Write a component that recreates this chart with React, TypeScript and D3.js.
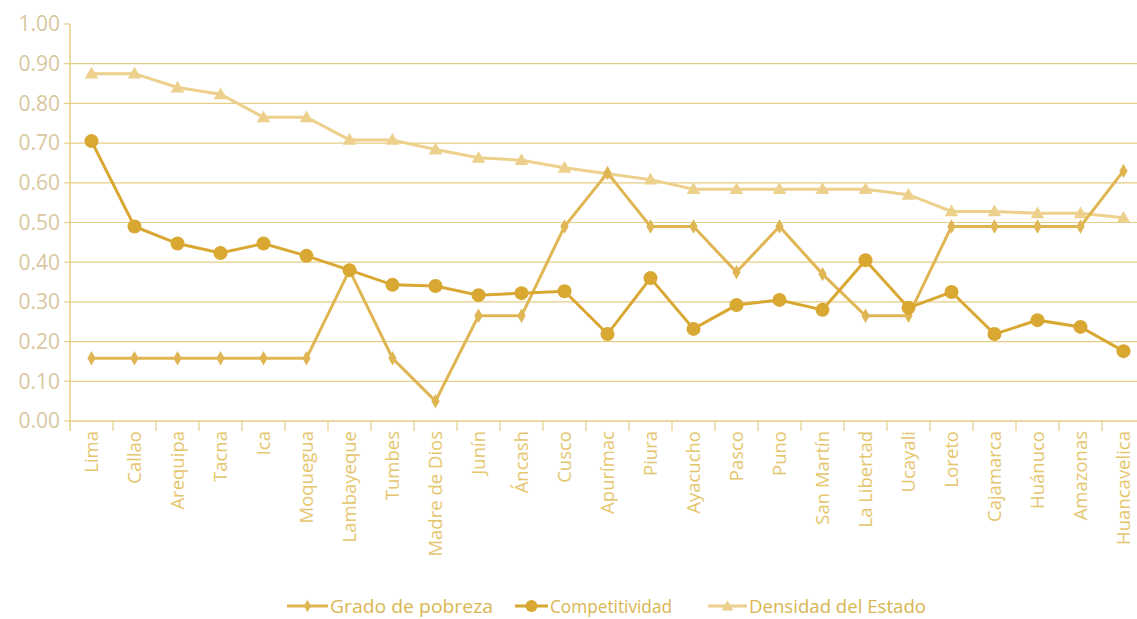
import React from "react";
import * as d3 from "d3";

const categories = ["Lima","Callao","Arequipa","Tacna","Ica","Moquegua","Lambayeque","Tumbes","Madre de Dios","Junín","Áncash","Cusco","Apurímac","Piura","Ayacucho","Pasco","Puno","San Martín","La Libertad","Ucayali","Loreto","Cajamarca","Huánuco","Amazonas","Huancavelica"];
const pobreza = [0.158,0.158,0.158,0.158,0.158,0.158,0.38,0.158,0.05,0.265,0.265,0.49,0.625,0.49,0.49,0.375,0.49,0.37,0.265,0.265,0.49,0.49,0.49,0.49,0.63];
const competitividad = [0.705,0.49,0.447,0.423,0.447,0.416,0.38,0.343,0.34,0.317,0.322,0.327,0.219,0.36,0.232,0.292,0.305,0.28,0.405,0.285,0.325,0.219,0.254,0.237,0.176];
const densidad = [0.875,0.875,0.84,0.823,0.765,0.765,0.708,0.708,0.684,0.663,0.657,0.638,0.623,0.608,0.584,0.584,0.584,0.584,0.584,0.57,0.528,0.528,0.523,0.523,0.512];
const yTicks = [0,0.1,0.2,0.3,0.4,0.5,0.6,0.7,0.8,0.9,1.0];
const seriesNames = ["Grado de pobreza","Competitividad","Densidad del Estado"];

const W = 1137, H = 619;
const left = 70, right = 1145, top = 24, bottom = 421;
const colPob = "#dfb653";
const colComp = "#d8a832";
const colDen = "#ecd08c";
const grid = "#e6cd85";
const font = "'Open Sans', sans-serif";

function Marker({ type, x, y, color, small }: { type: string; x: number; y: number; color: string; small?: boolean }) {
  if (type === "circle") return <circle cx={x} cy={y} r={small ? 6 : 7} fill={color} />;
  if (type === "diamond") {
    const s = d3.symbol().type(d3.symbolDiamond).size(small ? 45 : 60)();
    return <path d={s || ""} transform={`translate(${x},${y})`} fill={color} />;
  }
  const s = d3.symbol().type(d3.symbolTriangle).size(small ? 60 : 80)();
  return <path d={s || ""} transform={`translate(${x},${y + 1})`} fill={color} />;
}

export default function App() {
  const x = d3.scaleBand<string>().domain(categories).range([left, right]).padding(0);
  const y = d3.scaleLinear().domain([0, 1]).range([bottom, top]);
  const cx = (c: string) => (x(c) as number) + x.bandwidth() / 2;
  const line = d3.line<number>().x((_, i) => cx(categories[i])).y((d) => y(d));

  const series = [
    { name: seriesNames[2], data: densidad, color: colDen, marker: "triangle" },
    { name: seriesNames[0], data: pobreza, color: colPob, marker: "diamond" },
    { name: seriesNames[1], data: competitividad, color: colComp, marker: "circle" },
  ];

  const legend = [
    { name: seriesNames[0], color: colPob, marker: "diamond", x: 287, w: 41, tw: 163 },
    { name: seriesNames[1], color: colComp, marker: "circle", x: 515, w: 33, tw: 122 },
    { name: seriesNames[2], color: colDen, marker: "triangle", x: 708, w: 39, tw: 177 },
  ];

  return (
    <svg width={W} height={H} style={{ position: "absolute", left: 0, top: 0, background: "#fff" }}>
      {yTicks.filter((t) => t > 0 && t < 1).map((t) => (
        <line key={t} x1={left} x2={W} y1={y(t)} y2={y(t)} stroke={grid} strokeWidth={1.2} />
      ))}
      <line x1={left} x2={W} y1={bottom} y2={bottom} stroke={grid} strokeWidth={1.5} />
      <line x1={left} x2={left} y1={top} y2={bottom + 10} stroke={grid} strokeWidth={1.5} />
      {yTicks.map((t) => (
        <g key={t}>
          <line x1={left - 6} x2={left} y1={y(t)} y2={y(t)} stroke={grid} strokeWidth={1.2} />
          <text x={left - 10} y={y(t)} dy="0.35em" textAnchor="end" fontFamily={font} fontSize={21} fill="#d8c7a0">
            {t.toFixed(2)}
          </text>
        </g>
      ))}
      {categories.map((c, i) => (
        <g key={c}>
          {i > 0 && <line x1={x(c) as number} x2={x(c) as number} y1={bottom} y2={bottom + 10} stroke={grid} strokeWidth={1.2} />}
          <text
            transform={`translate(${cx(c) + 6},${bottom + 10}) rotate(-90)`}
            textAnchor="end"
            fontFamily={font}
            fontSize={18.5}
            fill="#e5c66e"
          >
            {c}
          </text>
        </g>
      ))}
      {series.map((s) => (
        <g key={s.name}>
          <path d={line(s.data) || ""} fill="none" stroke={s.color} strokeWidth={3} />
          {s.data.map((v, i) => (
            <Marker key={i} type={s.marker} x={cx(categories[i])} y={y(v)} color={s.color} />
          ))}
        </g>
      ))}
      {legend.map((l) => (
        <g key={l.name}>
          <line x1={l.x} x2={l.x + l.w} y1={606} y2={606} stroke={l.color} strokeWidth={3} />
          <Marker type={l.marker} x={l.x + l.w / 2} y={606} color={l.color} small />
          <text
            x={l.x + l.w + 2}
            y={606}
            dy="0.35em"
            fontFamily={font}
            fontSize={19}
            fill="#d9b652"
            textLength={l.tw}
            lengthAdjust="spacingAndGlyphs"
          >
            {l.name}
          </text>
        </g>
      ))}
    </svg>
  );
}
